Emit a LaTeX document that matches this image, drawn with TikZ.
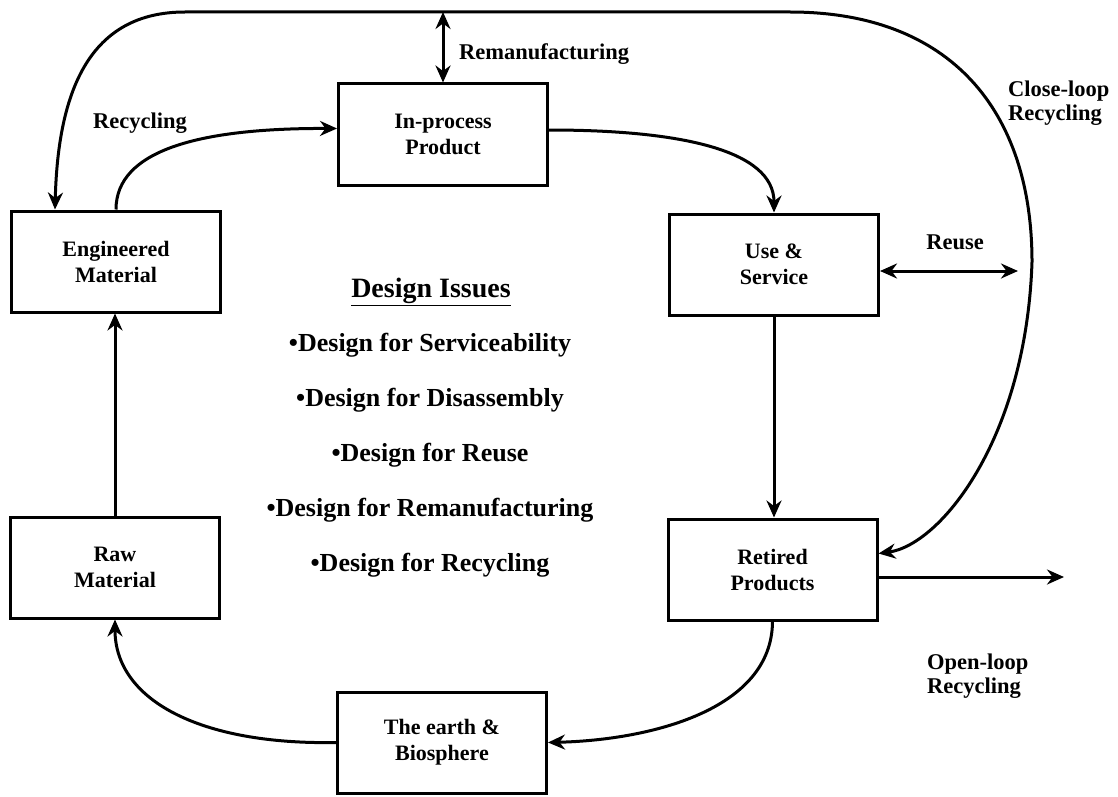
\documentclass[tikz,border=0pt]{standalone}
\usepackage{fontspec}
\setmainfont{Liberation Serif}
\usetikzlibrary{arrows.meta}
\begin{document}
\begin{tikzpicture}[x=1pt,y=-1pt,
  stage/.style={draw, line width=3pt, minimum width=209pt, minimum height=101pt,
    inner sep=0pt, align=center, font=\fontsize{22}{26}\selectfont\bfseries},
  tip/.style={line width=3pt},
  flow/.style={tip, -{Stealth[length=17pt,width=15pt]}},
  twoway/.style={tip, {Stealth[length=17pt,width=15pt]}-{Stealth[length=17pt,width=15pt]}},
  lbl/.style={font=\fontsize{22.5}{24}\selectfont\bfseries, align=left, inner sep=0pt},
  issue/.style={font=\fontsize{26}{30}\selectfont\bfseries, inner sep=0pt}]
\useasboundingbox (0,0) rectangle (1118,797);

% stages of the product life cycle
\node[stage] (inproc) at (443,134.5) {In-process\\Product};
\node[stage] (eng)    at (116,261.5) {Engineered\\Material};
\node[stage] (use)    at (774,264.5) {Use \&\\Service};
\node[stage] (raw)    at (115,567.5) {Raw\\Material};
\node[stage] (ret)    at (772.5,569.5) {Retired\\Products};
\node[stage] (earth)  at (442,742.5) {The earth \&\\Biosphere};

% route of the outer recycling loop
\coordinate (tl) at (185,12);
\coordinate (tr) at (790,12);
\coordinate (rv) at (1032,262);
\coordinate (reuseend) at (1018,271);
\coordinate (openend) at (1064,577);

% close-loop recycling: retired products back to engineered material
\draw[twoway] ([yshift=16pt]ret.east) .. controls (940,545) and (1026,440) .. (rv)
  .. controls (1032,110) and (950,12) .. (tr) -- (tl)
  .. controls (90,12) and (58,90) .. ([xshift=-61pt]eng.north);

% remanufacturing link to the loop
\draw[twoway] (inproc.north) -- (inproc.north |- tl);

% main cycle
\draw[flow] (eng.north) .. controls (116,150) and (200,128) .. ([yshift=6pt]inproc.west);
\draw[flow] ([yshift=4.5pt]inproc.east) .. controls (680,130) and (774,150) .. (use.north);
\draw[flow] (use.south) -- (use.south |- ret.north);
\draw[flow] (ret.south) .. controls (772,710) and (650,740) .. (earth.east);
\draw[flow] (earth.west) .. controls (200,745) and (115,700) .. (raw.south);
\draw[flow] (raw.north) -- (raw.north |- eng.south);

% reuse and open-loop recycling
\draw[twoway] ([yshift=-6.5pt]use.east) -- ([yshift=-6.5pt]use.east -| reuseend);
\draw[flow] ([yshift=-7.5pt]ret.east) -- ([yshift=-7.5pt]ret.east -| openend);

% loop labels
\node[lbl] (lrec) at (140,123) {Recycling};
\node[lbl, anchor=west] (lreman) at (459,54) {Remanufacturing};
\node[lbl, anchor=west] (lclose) at (1008,103) {Close-loop\\Recycling};
\node[lbl] (lreuse) at (955,242) {Reuse};
\node[lbl, anchor=west] (lopen) at (927,676) {Open-loop\\Recycling};

% design issues
\node[issue, font=\fontsize{28}{32}\selectfont\bfseries] (dtitle) at (431,292) {\underline{Design Issues}};
\node[issue] (d1) at (430,345) {\textbullet Design for Serviceability};
\node[issue] (d2) at (430,400) {\textbullet Design for Disassembly};
\node[issue] (d3) at (430,455) {\textbullet Design for Reuse};
\node[issue] (d4) at (430,510) {\textbullet Design for Remanufacturing};
\node[issue] (d5) at (430,565) {\textbullet Design for Recycling};
\end{tikzpicture}
\end{document}
